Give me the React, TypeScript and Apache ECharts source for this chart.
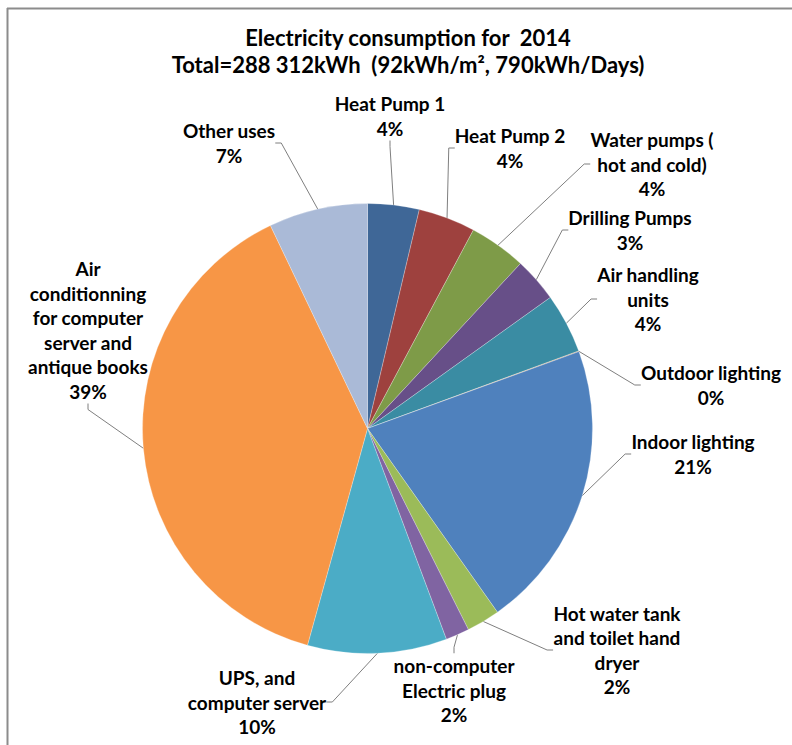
import React, { useEffect, useRef } from "react";
import * as echarts from "echarts";

const TITLE_LINE_1 = "Electricity consumption for  2014";
const TITLE_LINE_2 = "Total=288 312kWh  (92kWh/m², 790kWh/Days)";

const categories = [
  "Heat Pump 1",
  "Heat Pump 2",
  "Water pumps (\nhot and cold)",
  "Drilling Pumps",
  "Air handling\nunits",
  "Outdoor lighting",
  "Indoor lighting",
  "Hot water tank\nand toilet hand\ndryer",
  "non-computer\nElectric plug",
  "UPS, and\ncomputer server",
  "Air\nconditionning\nfor computer\nserver and\nantique books",
  "Other uses",
];

// share of consumption, percent
const shares = [3.7, 4.1, 4.1, 3.2, 4.3, 0.05, 20.75, 2.4, 1.7, 10.0, 38.6, 7.1];

const colors = [
  "#3F6797",
  "#9E413E",
  "#7E9B48",
  "#674F88",
  "#3A8CA3",
  "#C8884A",
  "#4F81BD",
  "#9BBB59",
  "#8064A2",
  "#4BACC6",
  "#F79646",
  "#AABAD7",
];

// layout: label block centres (px)
const labelCenters: [number, number][] = [
  [390, 116],
  [510, 148],
  [652, 164],
  [630, 230],
  [648, 299],
  [711, 385],
  [693, 454],
  [617, 650],
  [454, 690],
  [257, 702],
  [88, 330],
  [229, 143],
];

const FONT = "Lato, 'Open Sans', sans-serif";

export default function App() {
  const ref = useRef<HTMLDivElement>(null);
  useEffect(() => {
    if (!ref.current) return;
    const chart = echarts.init(ref.current, undefined, { renderer: "svg" });
    chart.setOption({
      animation: false,
      backgroundColor: "#ffffff",
      title: {
        text: TITLE_LINE_1 + "\n" + TITLE_LINE_2,
        left: 403,
        top: 19,
        textAlign: "center",
        textStyle: {
          fontFamily: FONT,
          fontWeight: "bold",
          fontSize: 22,
          lineHeight: 27,
          color: "#000",
        },
      },
      graphic: [
        {
          type: "line",
          shape: { x1: 7, y1: 8.5, x2: 792, y2: 8.5 },
          style: { stroke: "#8c8c8c", lineWidth: 2 },
        },
        {
          type: "line",
          shape: { x1: 7.5, y1: 8, x2: 7.5, y2: 745 },
          style: { stroke: "#8c8c8c", lineWidth: 2 },
        },
      ],
      series: [
        {
          type: "pie",
          center: [367.5, 428.5],
          radius: 225,
          startAngle: 90,
          clockwise: true,
          avoidLabelOverlap: false,
          percentPrecision: 0,
          itemStyle: { borderColor: "rgba(255,255,255,0.5)", borderWidth: 0.5 },
          label: {
            show: true,
            position: "outside",
            formatter: "{b}\n{d}%",
            fontFamily: FONT,
            fontWeight: "bold",
            fontSize: 19,
            lineHeight: 24.5,
            color: "#000",
            align: "center",
          },
          labelLine: {
            show: true,
            length: 10,
            length2: 6,
            lineStyle: { color: "#7f7f7f", width: 1 },
          },
          labelLayout: (params: any) => {
            const p = labelCenters[params.dataIndex];
            return { x: p[0], y: p[1], align: "center", verticalAlign: "middle" };
          },
          emphasis: { disabled: true },
          data: categories.map((c, i) => ({
            name: c,
            value: shares[i],
            itemStyle: { color: colors[i] },
          })),
        },
      ],
    });
    return () => chart.dispose();
  }, []);
  return (
    <div
      ref={ref}
      style={{ position: "fixed", left: 0, top: 0, width: 792, height: 745, background: "#fff" }}
    />
  );
}
